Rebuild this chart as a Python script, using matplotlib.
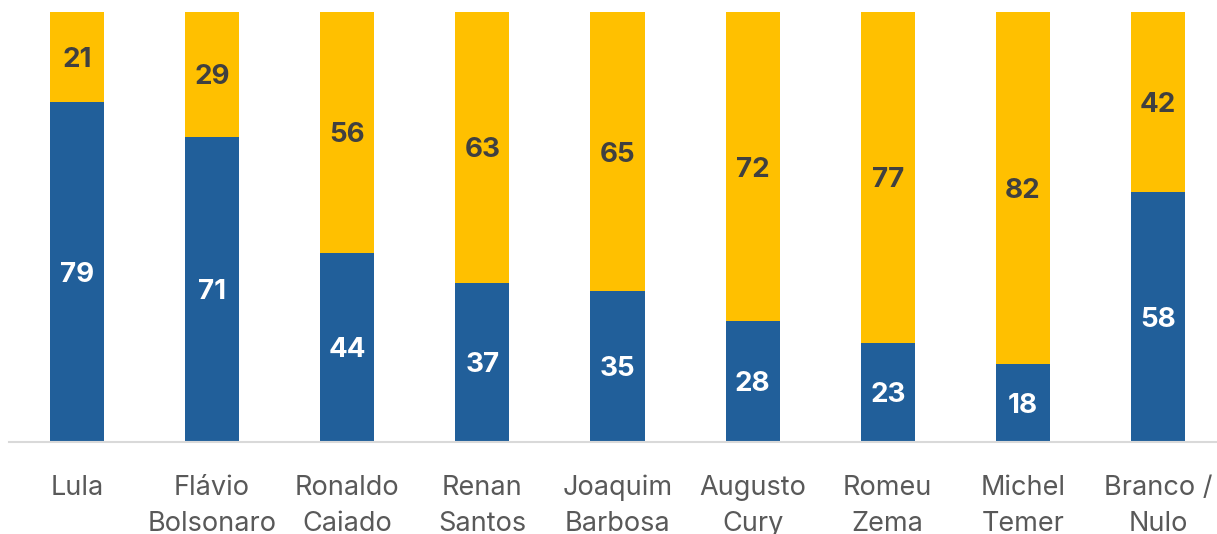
import matplotlib
matplotlib.use("Agg")
import matplotlib.pyplot as plt
import numpy as np

categories = ["Lula", "Flávio\nBolsonaro", "Ronaldo\nCaiado", "Renan\nSantos", "Joaquim\nBarbosa",
              "Augusto\nCury", "Romeu\nZema", "Michel\nTemer", "Branco /\nNulo"]
blue_vals = [79, 71, 44, 37, 35, 28, 23, 18, 58]
yellow_vals = [21, 29, 56, 63, 65, 72, 77, 82, 42]

plt.rcParams['font.family'] = ['Inter', 'DejaVu Sans']

fig = plt.figure(figsize=(12.17, 5.34), dpi=100)
ax = fig.add_axes([9.4 / 1217, 92.5 / 534, 1216.2 / 1217, 429.5 / 534])

x = np.arange(len(categories))
blue = "#215F9A"
yellow = "#FFC000"
ax.bar(x, blue_vals, width=0.4, color=blue)
ax.bar(x, yellow_vals, width=0.4, bottom=blue_vals, color=yellow)

for xi, b, y in zip(x, blue_vals, yellow_vals):
    ax.text(xi, b / 2, str(b), ha="center", va="center_baseline", color="white",
            fontsize=20, fontweight="bold")
    ax.text(xi, b + y / 2, str(y), ha="center", va="center_baseline", color="#404040",
            fontsize=20, fontweight="bold")

ax.set_xlim(-0.5, len(categories) - 0.5)
ax.set_ylim(0, 100)
ax.set_xticks(x)
ax.set_xticklabels(categories, fontsize=19.5, color="#595959", linespacing=1.5)
ax.tick_params(axis="x", length=0, pad=24)
ax.set_yticks([])
for s in ["top", "left", "right"]:
    ax.spines[s].set_visible(False)
ax.spines["bottom"].set_color("#D9D9D9")
ax.spines["bottom"].set_linewidth(1.5)

fig.savefig("out.png", dpi=100)
